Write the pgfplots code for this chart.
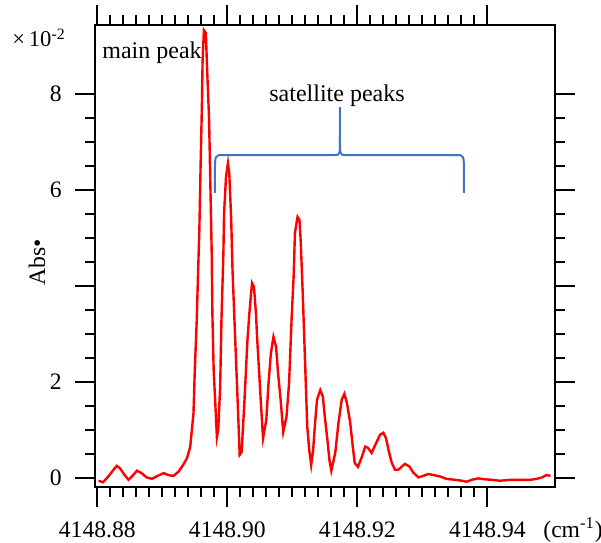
\documentclass[border=0pt]{standalone}
\usepackage{fontspec}
\setmainfont{Liberation Serif}
\usepackage{pgfplots}
\pgfplotsset{compat=1.18}

% x values are stored as (wavenumber - 4148) cm^-1
\pgfplotstableread{
x y
0.8802 -0.06
0.8809 -0.09
0.8817 0.03
0.8825 0.17
0.8830 0.25
0.8835 0.20
0.8842 0.06
0.8848 -0.04
0.8854 0.04
0.8861 0.15
0.8868 0.10
0.8876 0.01
0.8884 -0.02
0.8891 0.03
0.8902 0.10
0.8909 0.06
0.8917 0.04
0.8925 0.13
0.8932 0.27
0.8938 0.41
0.8943 0.65
0.8945 0.93
0.8948 1.35
0.8950 2.25
0.8953 3.29
0.8955 4.27
0.8957 5.17
0.8959 6.56
0.8961 7.81
0.8962 8.71
0.8964 9.33
0.8967 9.27
0.8969 8.50
0.8972 7.46
0.8974 6.06
0.8976 4.69
0.8977 3.44
0.8979 2.25
0.8982 1.42
0.8984 0.85
0.8986 1.00
0.8989 1.90
0.8991 3.29
0.8994 4.69
0.8995 5.52
0.8998 6.27
0.9001 6.56
0.9003 6.35
0.9006 5.38
0.9008 4.33
0.9011 3.29
0.9014 2.25
0.9017 1.21
0.9019 0.48
0.9022 0.54
0.9025 1.27
0.9027 1.77
0.9031 2.88
0.9034 3.44
0.9038 4.06
0.9041 3.98
0.9044 3.44
0.9046 2.88
0.9049 2.19
0.9052 1.48
0.9055 0.83
0.9060 1.21
0.9063 1.90
0.9067 2.60
0.9071 2.94
0.9075 2.73
0.9078 2.19
0.9082 1.63
0.9086 0.96
0.9091 1.27
0.9095 1.98
0.9099 3.35
0.9102 4.19
0.9104 5.10
0.9108 5.44
0.9111 5.38
0.9113 4.90
0.9116 3.85
0.9120 2.25
0.9123 1.06
0.9126 0.58
0.9129 0.27
0.9132 0.58
0.9135 1.15
0.9138 1.63
0.9143 1.83
0.9147 1.69
0.9150 1.27
0.9154 0.79
0.9157 0.38
0.9160 0.15
0.9166 0.52
0.9171 1.15
0.9176 1.63
0.9180 1.75
0.9184 1.56
0.9189 1.15
0.9193 0.65
0.9196 0.31
0.9201 0.23
0.9207 0.44
0.9212 0.65
0.9216 0.63
0.9222 0.52
0.9229 0.73
0.9235 0.90
0.9240 0.94
0.9244 0.83
0.9248 0.58
0.9253 0.31
0.9258 0.17
0.9263 0.17
0.9268 0.23
0.9273 0.29
0.9280 0.24
0.9286 0.11
0.9294 0.01
0.9301 0.04
0.9309 0.08
0.9317 0.06
0.9327 0.03
0.9337 -0.02
0.9350 -0.04
0.9361 -0.06
0.9368 -0.08
0.9376 -0.04
0.9386 -0.01
0.9396 -0.03
0.9407 -0.04
0.9419 -0.06
0.9435 -0.04
0.9450 -0.04
0.9466 -0.04
0.9476 -0.02
0.9484 0.01
0.9491 0.06
0.9497 0.04
}\spectrum

\definecolor{braceblue}{RGB}{68,114,196}

\begin{document}
\begin{tikzpicture}
\path[use as bounding box] (-47.5pt,-27.5pt) rectangle (253pt,243.5pt);
\begin{axis}[
  at={(0,0)}, anchor=south west,
  scale only axis, width=230pt, height=231pt,
  xmin=0.87965, xmax=0.9504,
  ymin=-0.19, ymax=9.44,
  axis line style={line width=1pt},
  every tick/.style={black, line width=1pt},
  tick align=outside,
  major tick length=10pt, minor tick length=5pt,
  xtick={0.88,0.90,0.92,0.94},
  xticklabels={4148.88,4148.90,4148.92,4148.94},
  minor x tick num=9,
  ytick={0,2,4,6,8},
  yticklabels={0,2,,6,8},
  minor y tick num=3,
  xtick pos=both, ytick pos=both,
  xticklabel pos=lower, yticklabel pos=left,
  tick label style={font=\fontsize{11.8}{13}\selectfont},
  xticklabel style={anchor=base, inner sep=0pt, yshift=-15pt},
  yticklabel style={anchor=east, inner sep=0pt, xshift=-6.5pt},
  ylabel={Abs\textbullet},
  every axis y label/.style={at={(axis description cs:-0.126,0.487)}, rotate=90, anchor=center, font=\fontsize{11.8}{13}\selectfont},
  clip=false,
]
\addplot[red, line width=1.2pt] table[x=x, y=y] {\spectrum};

% brace over the satellite peaks
\draw[braceblue, line width=1pt]
  (axis cs:0.8981,5.94) -- (axis cs:0.8981,6.35)
  .. controls (axis cs:0.8981,6.73) .. (axis cs:0.8993,6.73)
  -- (axis cs:0.91655,6.73)
  .. controls (axis cs:0.91733,6.73) .. (axis cs:0.91733,7.10)
  -- (axis cs:0.91733,7.73);
\draw[braceblue, line width=1pt]
  (axis cs:0.91733,7.10)
  .. controls (axis cs:0.91733,6.73) .. (axis cs:0.91811,6.73)
  -- (axis cs:0.9352,6.73)
  .. controls (axis cs:0.9364,6.73) .. (axis cs:0.9364,6.35)
  -- (axis cs:0.9364,5.94);

\node[anchor=base west, inner sep=0pt, font=\fontsize{12}{14}\selectfont] at (axis cs:0.88073,8.75) {main peak};
\node[anchor=base, inner sep=0pt, font=\fontsize{12}{14}\selectfont] at (axis cs:0.91687,7.85) {satellite peaks};
\node[anchor=base west, inner sep=0pt, font=\fontsize{11.8}{13}\selectfont] at ([xshift=-6pt,yshift=-25pt]rel axis cs:1,0) {(cm\textsuperscript{-1})};
\node[anchor=base west, inner sep=0pt, font=\fontsize{11.3}{13}\selectfont] at ([xshift=-41.5pt,yshift=-11pt]rel axis cs:0,1) {×\,10\textsuperscript{-2}};
\end{axis}
\end{tikzpicture}
\end{document}
